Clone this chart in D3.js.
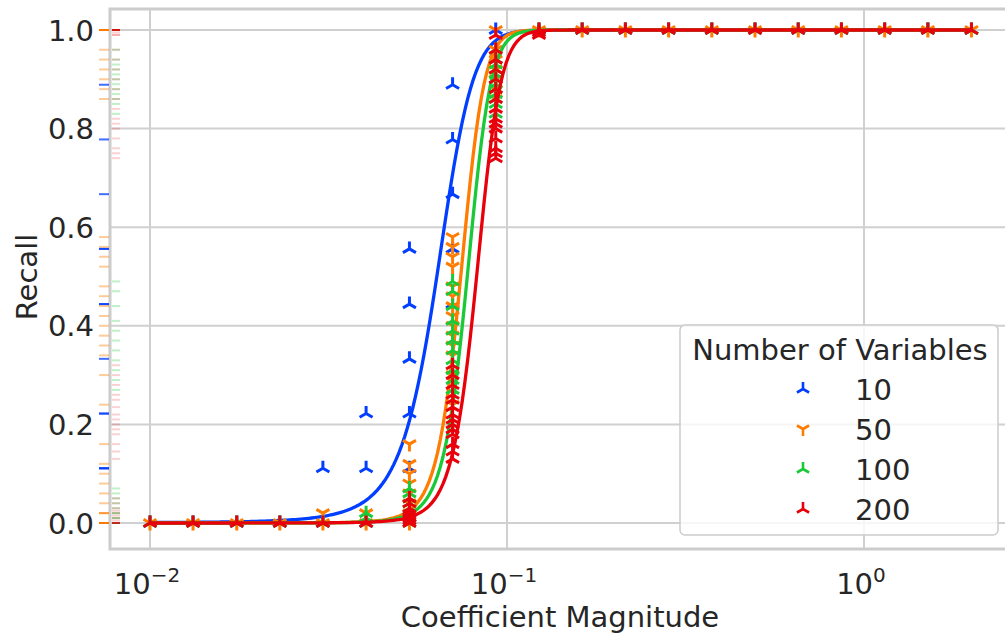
<!DOCTYPE html>
<html>
<head>
<meta charset="utf-8">
<script src="https://cdn.jsdelivr.net/npm/d3@7"></script>
<style>
  body { margin: 0; background: #fff; }
  svg text { font-family: "DejaVu Sans", sans-serif; fill: #262626; }
</style>
</head>
<body>
<script>
// coefficient magnitudes (x)
const xs = [0.01, 0.0132, 0.0175, 0.0231, 0.0305, 0.0403, 0.0533, 0.0704, 0.0930, 0.1229,
            0.1624, 0.2146, 0.2836, 0.3747, 0.4951, 0.6543, 0.8646, 1.1425, 1.5097, 2.0];

// recall values observed at each x (one list per x)
const recall10 = [[0], [0], [0], [0], [0, 0.111], [0, 0.111, 0.222],
  [0.111, 0.222, 0.333, 0.444, 0.556], [0.444, 0.556, 0.667, 0.778, 0.889],
  [1], [1], [1], [1], [1], [1], [1], [1], [1], [1], [1], [1]];
const recall50 = [[0], [0], [0], [0], [0, 0.02], [0, 0.02],
  [0, 0.02, 0.04, 0.06, 0.08, 0.1, 0.12, 0.16],
  [0.24, 0.3, 0.34, 0.36, 0.38, 0.4, 0.42, 0.44, 0.46, 0.48, 0.52, 0.54, 0.56, 0.58],
  [0.86, 0.88, 0.9, 0.92, 0.94, 0.96, 1], [1], [1], [1], [1], [1], [1], [1], [1], [1], [1], [1]];
const recall100 = [[0], [0], [0], [0], [0], [0, 0.01, 0.02],
  [0, 0.01, 0.02, 0.03, 0.04, 0.05, 0.06, 0.07],
  [0.27, 0.29, 0.31, 0.33, 0.35, 0.37, 0.39, 0.41, 0.44, 0.47, 0.49],
  [0.83, 0.85, 0.86, 0.87, 0.88, 0.89, 0.9, 0.91, 0.92, 0.93, 0.94, 0.96],
  [1], [1], [1], [1], [1], [1], [1], [1], [1], [1], [1]];
const recall200 = [[0], [0], [0], [0], [0], [0],
  [0, 0.005, 0.01, 0.015, 0.02, 0.025, 0.03, 0.04, 0.05],
  [0.13, 0.145, 0.16, 0.18, 0.19, 0.2, 0.21, 0.22, 0.235, 0.25, 0.26, 0.28, 0.3, 0.32],
  [0.74, 0.75, 0.76, 0.78, 0.8, 0.81, 0.82, 0.84, 0.86, 0.88, 0.9, 0.92, 0.94, 0.96, 0.99],
  [0.99, 0.995, 1], [1], [1], [1], [1], [1], [1], [1], [1], [1], [1]];

const seriesNames = ["10", "50", "100", "200"];
const seriesRecall = [recall10, recall50, recall100, recall200];
// logistic fit (in linear x): midpoint and slope per series
const fitMid = [0.0636, 0.0742, 0.0774, 0.0822];
const fitSlope = [130, 174, 166, 153];

const yTicks = [0, 0.2, 0.4, 0.6, 0.8, 1.0];
const xTicks = [0.01, 0.1, 1];
const xTickExp = ["\u22122", "\u22121", "0"];

const colors = ["#023eff", "#ff7c00", "#1ac938", "#e8000b"];
const markers = ["up", "down", "up", "up"];
const rugOpacity = [0.75, 0.4, 0.28, 0.18];

const width = 1005, height = 635;
const frame = { left: 110, right: 1012, top: 9, bottom: 549 };

const svg = d3.select("body").append("svg").attr("width", width).attr("height", height);

const xScale = d3.scaleLog().domain([0.01, 1]).range([150, 864]);
const yScale = d3.scaleLinear().domain([0, 1]).range([523, 30]);

// grid
const grid = svg.append("g");
grid.selectAll(".gx").data(xTicks).join("line")
  .attr("x1", d => xScale(d)).attr("x2", d => xScale(d))
  .attr("y1", frame.top).attr("y2", frame.bottom)
  .attr("stroke", "#d0d0d0").attr("stroke-width", 2);
grid.selectAll(".gy").data(yTicks).join("line")
  .attr("x1", frame.left).attr("x2", frame.right)
  .attr("y1", d => yScale(d)).attr("y2", d => yScale(d))
  .attr("stroke", "#d0d0d0").attr("stroke-width", 2);

// frame
svg.append("rect")
  .attr("x", frame.left).attr("y", frame.top)
  .attr("width", frame.right - frame.left).attr("height", frame.bottom - frame.top)
  .attr("fill", "none").attr("stroke", "#cccccc").attr("stroke-width", 3);

function triPath(kind, r) {
  const s = kind === "up" ? -1 : 1;
  const c = 0.866 * r, h = 0.5 * r;
  return `M0,0L0,${s * r}M0,0L${-c},${-s * h}M0,0L${c},${-s * h}`;
}

const plot = svg.append("g");
const line = d3.line().x(d => xScale(d[0])).y(d => yScale(d[1]));
const curveX = d3.range(0, 301).map(i => xScale.invert(150 + i * (xScale(2) - 150) / 300));

seriesRecall.forEach((rec, s) => {
  const pts = rec.flatMap((vals, i) => vals.map(v => [xs[i], v]));
  plot.append("g").selectAll("path").data(pts).join("path")
    .attr("transform", d => `translate(${xScale(d[0])},${yScale(d[1])})`)
    .attr("d", triPath(markers[s], 7.5))
    .attr("fill", "none").attr("stroke", colors[s]).attr("stroke-width", 3);

  const fit = curveX.map(x => [x, 1 / (1 + Math.exp(-fitSlope[s] * (x - fitMid[s])))]);
  plot.append("path").datum(fit)
    .attr("d", line).attr("fill", "none")
    .attr("stroke", colors[s]).attr("stroke-width", 3.3);

  // rug
  const rugX = s < 2 ? [99, 109] : [112, 120];
  plot.append("g").selectAll("line").data(pts).join("line")
    .attr("x1", rugX[0]).attr("x2", rugX[1])
    .attr("y1", d => yScale(d[1])).attr("y2", d => yScale(d[1]))
    .attr("stroke", colors[s]).attr("stroke-width", 2)
    .attr("stroke-opacity", rugOpacity[s]);
});

// y tick labels
svg.append("g").selectAll("text").data(yTicks).join("text")
  .attr("x", 94).attr("y", d => yScale(d) + 10.5)
  .attr("text-anchor", "end").attr("font-size", 29)
  .text(d => d.toFixed(1));

// x tick labels
const xl = svg.append("g").selectAll("text").data(xTicks).join("text")
  .attr("x", d => xScale(d) - 3).attr("y", 594)
  .attr("text-anchor", "middle").attr("font-size", 29);
xl.append("tspan").text("10");
xl.append("tspan").attr("dy", -12).attr("font-size", 20).text((d, i) => xTickExp[i]);

// axis titles
svg.append("text").attr("x", 560).attr("y", 627)
  .attr("text-anchor", "middle").attr("font-size", 29).text("Coefficient Magnitude");
svg.append("text").attr("transform", "translate(37,277) rotate(-90)")
  .attr("text-anchor", "middle").attr("font-size", 29).text("Recall");

// legend
const lg = svg.append("g");
lg.append("rect").attr("x", 680).attr("y", 325).attr("width", 318).attr("height", 210)
  .attr("rx", 5).attr("fill", "#fff").attr("fill-opacity", 0.8)
  .attr("stroke", "#cccccc").attr("stroke-width", 1.5);
lg.append("text").attr("x", 840).attr("y", 360).attr("text-anchor", "middle")
  .attr("font-size", 29).text("Number of Variables");
seriesNames.forEach((name, s) => {
  const cy = 389 + s * 40;
  lg.append("path").attr("transform", `translate(803,${cy})`)
    .attr("d", triPath(markers[s], 7))
    .attr("fill", "none").attr("stroke", colors[s]).attr("stroke-width", 2.6);
  lg.append("text").attr("x", 855).attr("y", cy + 10.5)
    .attr("font-size", 29).text(name);
});
</script>
</body>
</html>
